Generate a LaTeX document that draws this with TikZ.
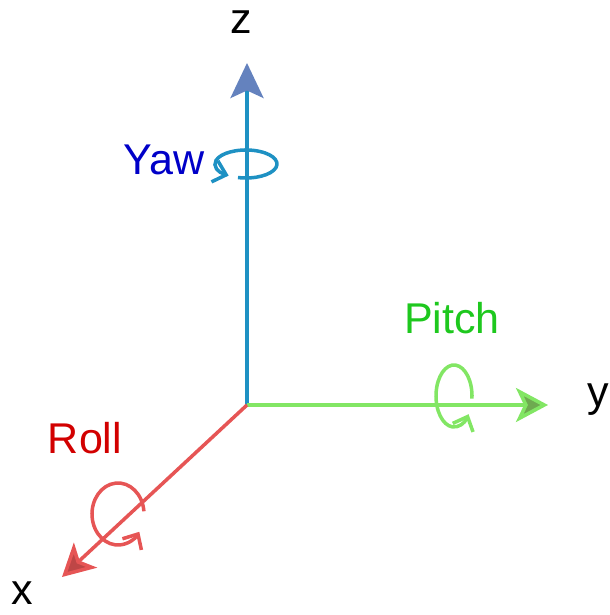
\documentclass[tikz,border=0pt]{standalone}
\usepackage{fontspec}
\setmainfont{Liberation Sans}
\usetikzlibrary{arrows.meta}
\definecolor{zline}{RGB}{30,145,195}
\definecolor{zhead}{RGB}{100,130,190}
\definecolor{yline}{RGB}{130,230,100}
\definecolor{yhead}{RGB}{110,170,80}
\definecolor{xline}{RGB}{230,85,85}
\definecolor{xhead}{RGB}{190,70,70}
\definecolor{yawtxt}{RGB}{0,0,200}
\definecolor{pitchtxt}{RGB}{30,200,30}
\definecolor{rolltxt}{RGB}{210,0,0}

\begin{document}
\begin{tikzpicture}[
  axis/.style={line width=2pt},
  spin/.style={line width=2pt, -{Straight Barb[length=2.4mm,width=4.4mm]}},
  lbl/.style={inner sep=0pt, font=\fontsize{24.5}{29}\selectfont},
]
  \useasboundingbox (0,0) rectangle (12.18,12.30);
  % Origin and axis tips
  \coordinate (O) at (4.94,4.20);
  \coordinate (Z) at (4.94,11.04);
  \coordinate (Y) at (10.96,4.20);
  \coordinate (X) at (1.24,0.76);
  % Rotation loops around each axis
  \draw[spin, zline]  (4.92,9.02) ++(255:0.62 and 0.28)
    arc[start angle=255, end angle=596, x radius=0.62, y radius=0.28];
  \draw[spin, yline]  (9.08,4.38) ++(-5:0.36 and 0.62)
    arc[start angle=-5, end angle=324, x radius=0.36, y radius=0.62];
  \draw[spin, xline]  (2.36,2.02) ++(5:0.52 and 0.62)
    arc[start angle=5, end angle=325, x radius=0.52, y radius=0.62];
  % Axes
  \draw[axis, zline, -{Stealth[length=7mm,width=6.6mm,inset=1.5mm,color=zhead]}] (O) -- (Z);
  \draw[axis, yline, -{Stealth[length=6.4mm,width=6.8mm,inset=1.6mm,fill=yhead]}] (O) -- (Y);
  \draw[axis, xline, -{Stealth[length=6.4mm,width=6.8mm,inset=1.6mm,fill=xhead]}] (O) -- (X);
  % Labels
  \node[lbl] (zlab) at (4.82,11.86) {z};
  \node[lbl] (ylab) at (11.96,4.30) {y};
  \node[lbl] (xlab) at (0.44,0.44) {x};
  \node[lbl, yawtxt] (yaw) at (3.28,9.10) {Yaw};
  \node[lbl, pitchtxt] (pitch) at (9.04,5.94) {Pitch};
  \node[lbl, rolltxt] (roll) at (1.70,3.54) {Roll};
\end{tikzpicture}
\end{document}
